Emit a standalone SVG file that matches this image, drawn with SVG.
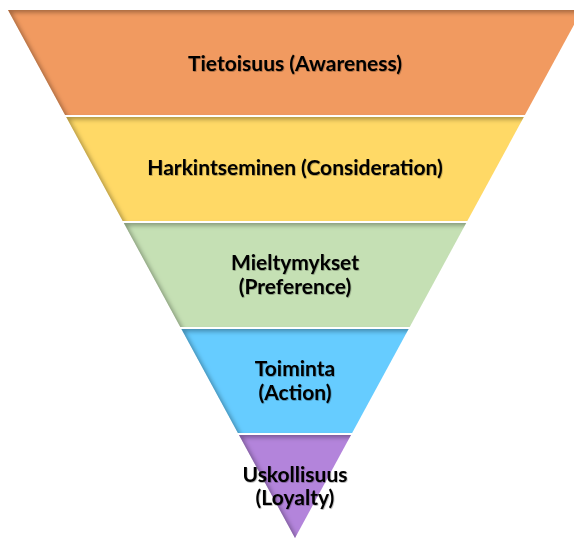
<svg xmlns="http://www.w3.org/2000/svg" width="574" height="539" viewBox="0 0 574 539">
  <style>
    .band { stroke: none; filter: url(#innerShadow); }
    .label { font-family: Lato, "Liberation Sans", sans-serif; font-weight: 700; font-size: 21px; fill: #000; text-anchor: middle; filter: url(#textShadow); }
  </style>
  <defs>
    <!-- soft dark shading along the top and left edges of each band -->
    <filter id="innerShadow" x="-5%" y="-5%" width="110%" height="110%">
      <feOffset in="SourceAlpha" dx="4" dy="3"/>
      <feGaussianBlur stdDeviation="2.2" result="shifted"/>
      <feComposite in="SourceAlpha" in2="shifted" operator="out" result="rim"/>
      <feFlood flood-color="#000" flood-opacity="0.55"/>
      <feComposite in2="rim" operator="in" result="shade"/>
      <feComposite in="shade" in2="SourceGraphic" operator="over"/>
    </filter>
    <filter id="textShadow" x="-5%" y="-20%" width="110%" height="140%">
      <feDropShadow dx="0.6" dy="0.8" stdDeviation="0.6" flood-color="#000" flood-opacity="0.35"/>
    </filter>
  </defs>

  <g id="awareness">
    <polygon class="band" fill="#F19A60" points="8,10 582,10 524.9,115 65.1,115"/>
    <text class="label" x="295" y="71">Tietoisuus (Awareness)</text>
  </g>

  <g id="consideration">
    <polygon class="band" fill="#FFD966" points="66.2,117 523.8,117 467.3,221 122.7,221"/>
    <text class="label" x="295" y="175">Harkintseminen (Consideration)</text>
  </g>

  <g id="preference">
    <polygon class="band" fill="#C5E0B4" points="123.8,223 466.2,223 409.7,327 180.3,327"/>
    <text class="label" x="295" y="270">Mieltymykset</text>
    <text class="label" x="295" y="294">(Preference)</text>
  </g>

  <g id="action">
    <polygon class="band" fill="#66CCFF" points="181.4,329 408.6,329 352.1,433 237.9,433"/>
    <text class="label" x="295" y="376">Toiminta</text>
    <text class="label" x="295" y="400">(Action)</text>
  </g>

  <g id="loyalty">
    <polygon class="band" fill="#B384DB" points="239,435 351,435 295,538"/>
    <text class="label" x="295" y="482">Uskollisuus</text>
    <text class="label" x="295" y="505">(Loyalty)</text>
  </g>

  <g id="connectors"></g>
</svg>
